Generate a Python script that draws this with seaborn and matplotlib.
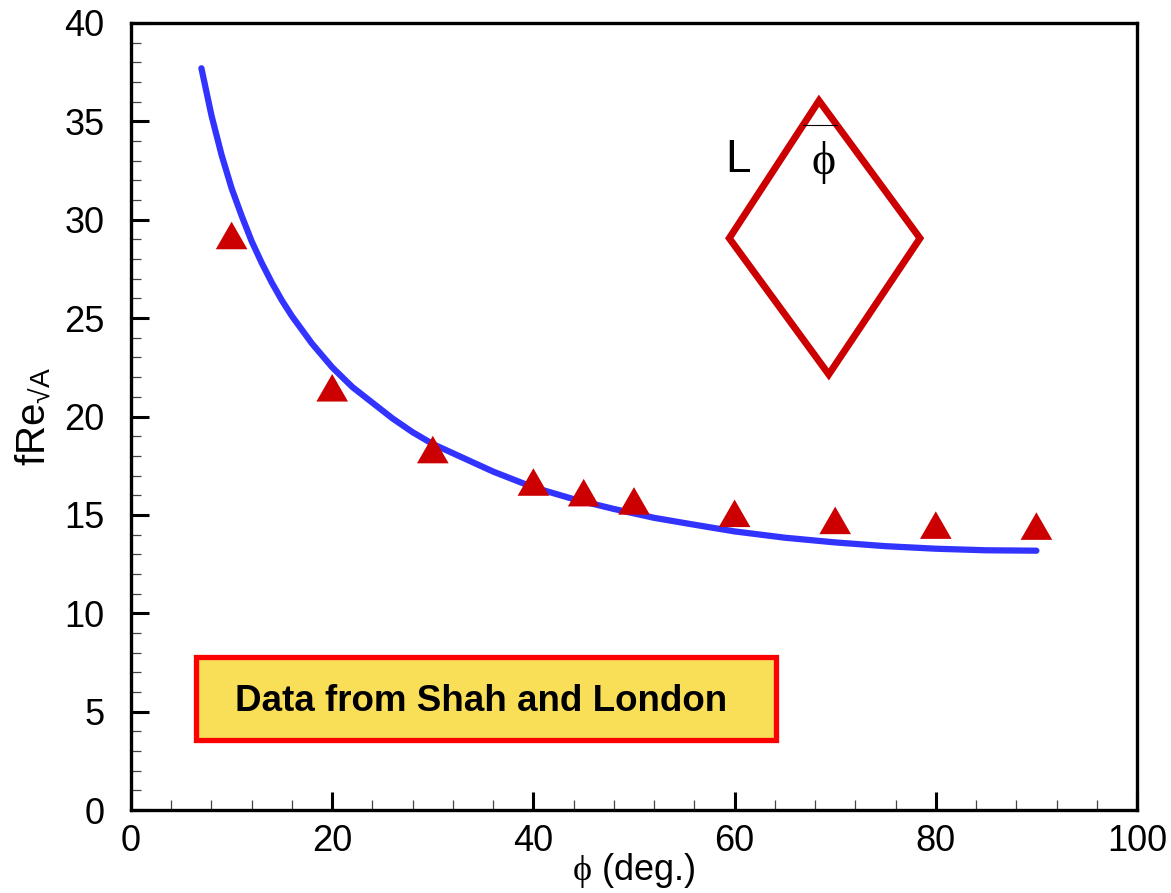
import numpy as np
import pandas as pd
import matplotlib
matplotlib.use("Agg")
import matplotlib.pyplot as plt
import seaborn as sns
from matplotlib.ticker import MultipleLocator
from matplotlib.patches import Rectangle, Polygon

# ---- data ----
curve_phi = [7, 8, 9, 10, 11, 12, 13, 14, 15, 16, 18, 20, 22, 24, 26, 28, 30,
             33, 36, 40, 44, 48, 52, 56, 60, 65, 70, 75, 80, 85, 90]
curve_fre = [37.7, 35.3, 33.3, 31.6, 30.2, 28.9, 27.8, 26.8, 25.9, 25.1, 23.7,
             22.5, 21.5, 20.7, 19.9, 19.2, 18.6, 17.9, 17.2, 16.4, 15.8, 15.3,
             14.85, 14.5, 14.16, 13.84, 13.6, 13.41, 13.28, 13.2, 13.18]

data_phi = [10, 20, 30, 40, 45, 50, 60, 70, 80, 90]
data_fre = [29.2, 21.46, 18.32, 16.67, 16.13, 15.71, 15.08, 14.72, 14.48, 14.43]

# rhombus sketch (data coordinates)
rhombus_x = [68.39, 78.43, 69.36, 59.47]
rhombus_y = [36.05, 29.06, 22.14, 29.06]

box_text = "Data from Shah and London"
x_ticks = [0, 20, 40, 60, 80, 100]
y_ticks = [0, 5, 10, 15, 20, 25, 30, 35, 40]

sns.set_theme(style="white")
plt.rcParams["font.family"] = ["Liberation Sans", "DejaVu Sans"]
plt.rcParams["mathtext.fontset"] = "custom"
plt.rcParams["mathtext.rm"] = "Liberation Sans"
plt.rcParams["mathtext.it"] = "Liberation Serif"
plt.rcParams["mathtext.bf"] = "Liberation Sans:bold"
for k in ["text.color", "axes.labelcolor", "xtick.color", "ytick.color"]:
    plt.rcParams[k] = "black"

fig = plt.figure(figsize=(11.71, 8.93), dpi=100)
ax = fig.add_axes([131 / 1171, 83 / 893, 1006 / 1171, 787 / 893])

curve_df = pd.DataFrame({"phi": curve_phi, "fRe": curve_fre})
data_df = pd.DataFrame({"phi": data_phi, "fRe": data_fre})

sns.lineplot(data=curve_df, x="phi", y="fRe", sort=False, ax=ax,
             color="#3333FF", linewidth=4.5, solid_capstyle="round",
             solid_joinstyle="round", zorder=3)
tri = [(0, 0.87), (-1, -0.87), (1, -0.87)]
sns.scatterplot(data=data_df, x="phi", y="fRe", ax=ax, marker=tri, s=520,
                color="#CC0000", edgecolor="none", linewidth=0, zorder=4)

# rhombus sketch
ax.add_patch(Polygon(list(zip(rhombus_x, rhombus_y)), closed=True, fill=False,
                     edgecolor="#CC0000", linewidth=5, joinstyle="miter", zorder=2))
ax.plot([66.8, 70.15], [34.8, 34.8], color="black", linewidth=0.8, zorder=2)
ax.text(60.34, 33.03, "L", fontsize=33, ha="center", va="center")
ax.text(68.79, 32.9, r"$\phi$", fontsize=33, ha="center", va="center")

# annotation box
ax.add_patch(Rectangle((6.5, 3.56), 57.6, 4.23, facecolor="#F9DE57",
                       edgecolor="#FF0000", linewidth=3.8, zorder=2))
ax.text(34.8, 5.5, box_text, fontsize=26.5, fontweight="bold",
        ha="center", va="center", zorder=3)

ax.set_xlim(0, 100)
ax.set_ylim(0, 40)
ax.set_xticks(x_ticks)
ax.set_yticks(y_ticks)
ax.xaxis.set_minor_locator(MultipleLocator(4))
ax.yaxis.set_minor_locator(MultipleLocator(1))
ax.tick_params(which="major", direction="in", length=13, width=2.2,
               color="black", labelcolor="black", labelsize=26,
               top=False, right=False)
ax.tick_params(which="minor", direction="in", length=7, width=0.9,
               color="#444444", top=False, right=False)
ax.tick_params(axis="x", which="major", pad=10, bottom=True)
ax.tick_params(axis="x", which="minor", bottom=True)
ax.tick_params(axis="y", which="major", pad=19, left=True)
ax.tick_params(axis="y", which="minor", left=True)

for sp in ax.spines.values():
    sp.set_linewidth(2.4)
    sp.set_color("black")

ax.set_xlabel(r"$\phi$ (deg.)", fontsize=26)
ax.set_ylabel(r"fRe$_{\mathregular{√A}}$", fontsize=29)
ax.xaxis.set_label_coords(0.5, -0.077)
ax.xaxis.label.set_va("center")
ax.yaxis.set_label_coords(-0.097, 0.5)
ax.yaxis.label.set_va("center")

fig.savefig("out.png", dpi=100)
